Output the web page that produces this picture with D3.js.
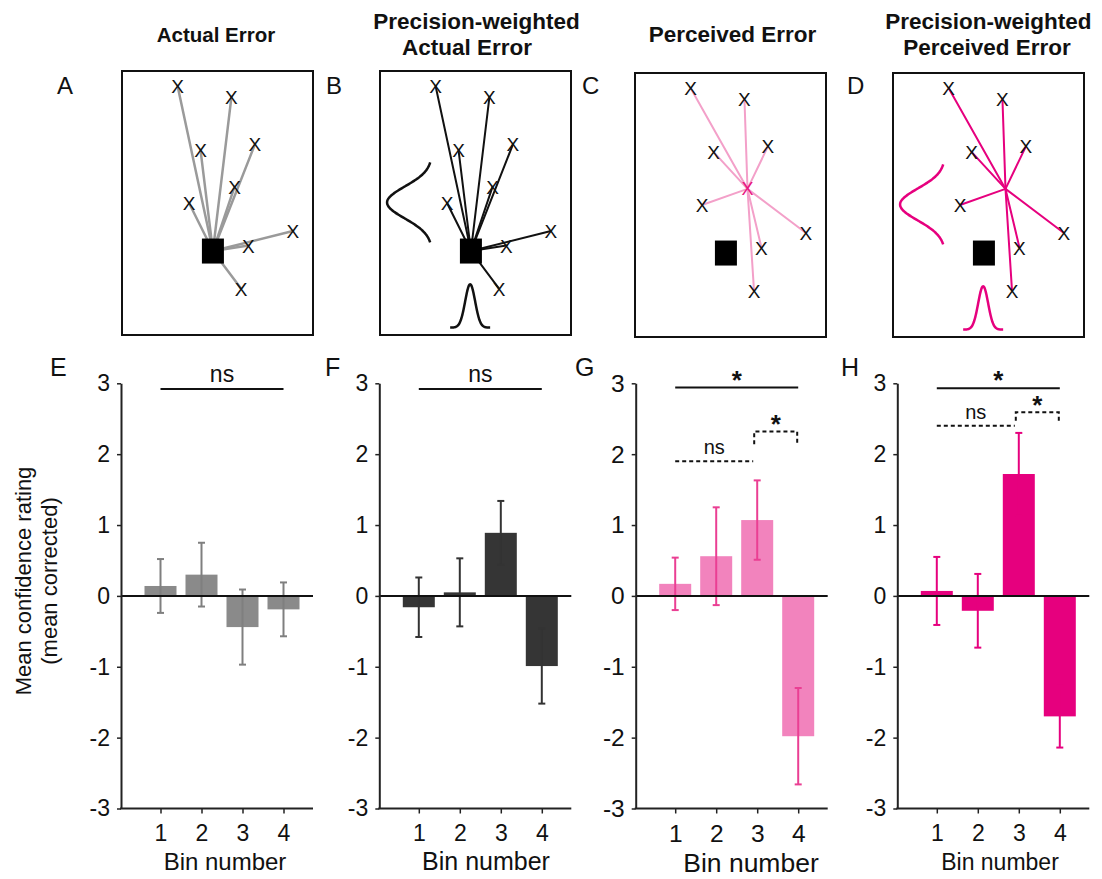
<!DOCTYPE html>
<html>
<head>
<meta charset="utf-8">
<script src="https://cdn.jsdelivr.net/npm/d3@7"></script>
<style>
  body { margin: 0; background: #fff; }
  svg { display: block; }
  text { font-family: "Liberation Sans", Arial, Helvetica, sans-serif; fill: #111; }
</style>
</head>
<body>
<svg id="fig" width="1102" height="879"></svg>
<script>
// ---------- bar chart data (mean confidence rating, mean corrected) ----------
const bins = [1, 2, 3, 4];
const yTicks = [-3, -2, -1, 0, 1, 2, 3];

const actualMean        = [0.14, 0.30, -0.44, -0.19];
const actualErr         = [0.38, 0.45, 0.53, 0.38];
const pwActualMean      = [-0.16, 0.05, 0.89, -0.99];
const pwActualErr       = [0.42, 0.48, 0.45, 0.53];
const perceivedMean     = [0.17, 0.56, 1.07, -1.98];
const perceivedErr      = [0.37, 0.69, 0.56, 0.68];
const pwPerceivedMean   = [0.07, -0.21, 1.72, -1.70];
const pwPerceivedErr    = [0.48, 0.52, 0.58, 0.44];

// significance annotations: bins compared, height in rating units, label
const sigE = [{ a: 1, b: 4, level: 2.92, label: "ns", kind: "solid" }];
const sigF = [{ a: 1, b: 4, level: 2.92, label: "ns", kind: "solid" }];
const sigG = [
  { a: 1, b: 4, level: 2.94, label: "*", kind: "solid" },
  { a: 1, b: 3, level: 1.90, label: "ns", kind: "dashed" },
  { a: 3, b: 4, level: 2.32, drop: 0.18, label: "*", kind: "bracket" }
];
const sigH = [
  { a: 1, b: 4, level: 2.93, label: "*", kind: "solid" },
  { a: 1, b: 3, level: 2.40, label: "ns", kind: "dashed" },
  { a: 3, b: 4, level: 2.59, drop: 0.12, label: "*", kind: "bracket" }
];

// ---------- schematic data (arena coordinates, percent of width / height) ----------
const estimateX = [29.1, 57.3, 41.1, 69.6, 58.9, 35.1, 89.5, 66.2, 62.3];
const estimateY = [ 5.7,  9.8, 29.9, 27.8, 43.9, 50.0, 60.6, 66.1, 82.4];
const perceivedIdx = 4;          // estimate that marks the perceived target
const targetPos = [47.6, 68.2];  // true target (black square)

const svg = d3.select("#fig");
const FONT = '"Liberation Sans", Arial, Helvetica, sans-serif';

// ---------- top row: schematics ----------
const boxW = 191, boxH = 264;
const topPanels = [
  { letter: "A", lx: 57,  left: 122, top: 71, mode: "actual",    line: "#9a9a9a", lw: 2.5, bells: false,
    title: [{ t: "Actual Error", x: 216, y: 41.7, size: 20.5 }] },
  { letter: "B", lx: 326, left: 380, top: 71, mode: "actual",    line: "#111",    lw: 2,   bells: true, bellColor: "#111",
    title: [{ t: "Precision-weighted", x: 476.5, y: 29, size: 22.5 }, { t: "Actual Error", x: 467, y: 55, size: 22.5 }] },
  { letter: "C", lx: 582, left: 635, top: 73, mode: "perceived", line: "#f3a0c9", lw: 2,   bells: false, hubMark: "#e8157f",
    title: [{ t: "Perceived Error", x: 732.5, y: 41.7, size: 22.5 }] },
  { letter: "D", lx: 847, left: 893, top: 73, mode: "perceived", line: "#e6007e", lw: 2,   bells: true, bellColor: "#e6007e",
    title: [{ t: "Precision-weighted", x: 988.3, y: 29, size: 22.5 }, { t: "Perceived Error", x: 987, y: 55, size: 22.5 }] }
];

// normal-curve outline used to sketch each spatial precision
const bell = t => Math.exp(-t * t / 2);

topPanels.forEach(p => {
  const g = svg.append("g");
  const sx = d3.scaleLinear().domain([0, 100]).range([p.left, p.left + boxW]);
  const sy = d3.scaleLinear().domain([0, 100]).range([p.top, p.top + boxH]);

  p.title.forEach(tl => {
    g.append("text").attr("x", tl.x).attr("y", tl.y).attr("text-anchor", "middle")
      .style("font-size", tl.size + "px").style("font-weight", "bold").text(tl.t);
  });
  g.append("text").attr("x", p.lx).attr("y", 93.5).style("font-size", "24px").text(p.letter);

  g.append("rect").attr("x", p.left).attr("y", p.top).attr("width", boxW).attr("height", boxH)
    .attr("fill", "none").attr("stroke", "#111").attr("stroke-width", 2);

  const pts = estimateX.map((x, i) => ({ x: estimateX[i], y: estimateY[i], i }));
  const origin = p.mode === "actual"
    ? { x: targetPos[0], y: targetPos[1] }
    : { x: estimateX[perceivedIdx], y: estimateY[perceivedIdx] };
  const ends = p.mode === "actual" ? pts : pts.filter(d => d.i !== perceivedIdx);

  g.selectAll("line.err").data(ends).join("line")
    .attr("x1", sx(origin.x)).attr("y1", sy(origin.y))
    .attr("x2", d => sx(d.x)).attr("y2", d => sy(d.y))
    .attr("stroke", p.line).attr("stroke-width", p.lw).attr("stroke-linecap", "round");

  // true target
  g.append("rect").attr("x", sx(targetPos[0]) - 11).attr("y", sy(targetPos[1]) - 12.5)
    .attr("width", 22).attr("height", 25).attr("fill", "#000");

  // estimates
  g.selectAll("text.est").data(ends).join("text")
    .attr("x", d => sx(d.x)).attr("y", d => sy(d.y) + 7)
    .attr("text-anchor", "middle").style("font-size", "19px").text("X");
  if (p.hubMark) {
    g.append("text").attr("x", sx(origin.x)).attr("y", sy(origin.y) + 6.5)
      .attr("text-anchor", "middle").style("font-size", "18px").style("fill", p.hubMark).text("X");
  }

  if (p.bells) {
    const ts = d3.range(-2.5, 2.5001, 0.05);
    // wide vertical spread on the left
    const base1 = sx(27.3), amp1 = sx(27.3) - sx(3.7), cy1 = sy(49.8), sig1 = 16;
    g.append("path").attr("fill", "none").attr("stroke", p.bellColor).attr("stroke-width", 2.5)
      .attr("d", d3.line().curve(d3.curveBasis)(ts.map(t => [base1 - amp1 * bell(t), cy1 + t * sig1])));
    // narrow horizontal spread at the bottom
    const ts2 = d3.range(-4, 4.0001, 0.05);
    const base2 = sy(97.2), amp2 = sy(97.2) - sy(80.8), cx2 = sx(47.2), sig2 = 5;
    g.append("path").attr("fill", "none").attr("stroke", p.bellColor).attr("stroke-width", 2.5)
      .attr("d", d3.line().curve(d3.curveBasis)(ts2.map(t => [cx2 + t * sig2, base2 - amp2 * bell(t)])));
  }
});

// ---------- bottom row: bar charts ----------
const yTop = 383.3, yBot = 808.5;
const y = d3.scaleLinear().domain([-3, 3]).range([yBot, yTop]);
const barW = 32;

const bottomPanels = [
  { letter: "E", lx: 50,  x0: 121,   mean: actualMean,      err: actualErr,      fill: "#8a8a8a", errColor: "#7f7f7f", sig: sigE,
    tickSize: 23, binSize: 24, binX: 225, binY: 870 },
  { letter: "F", lx: 325, x0: 379.3, mean: pwActualMean,    err: pwActualErr,    fill: "#353535", errColor: "#333333", sig: sigF,
    tickSize: 23, binSize: 25, binX: 486, binY: 870 },
  { letter: "G", lx: 575, x0: 635.7, mean: perceivedMean,   err: perceivedErr,   fill: "#f283bd", errColor: "#ea3f93", sig: sigG,
    tickSize: 24.5, binSize: 26.5, binX: 751, binY: 872 },
  { letter: "H", lx: 841, x0: 897.3, mean: pwPerceivedMean, err: pwPerceivedErr, fill: "#e6007e", errColor: "#e6007e", sig: sigH,
    tickSize: 23, binSize: 23, binX: 1000, binY: 870 }
];

bottomPanels.forEach(p => {
  const g = svg.append("g");
  const x = d3.scalePoint().domain(bins).range([p.x0 + 39.5, p.x0 + 162.5]);
  const xEnd = p.x0 + 192;

  g.append("text").attr("x", p.lx).attr("y", 376).style("font-size", "25px").text(p.letter);

  // bars
  const rows = bins.map((b, i) => ({ b, v: p.mean[i], e: p.err[i] }));
  g.selectAll("rect.bar").data(rows).join("rect")
    .attr("x", d => x(d.b) - barW / 2).attr("width", barW)
    .attr("y", d => Math.min(y(d.v), y(0))).attr("height", d => Math.abs(y(d.v) - y(0)))
    .attr("fill", p.fill);

  // error bars (SEM)
  const eg = g.selectAll("g.eb").data(rows).join("g").attr("stroke", p.errColor).attr("stroke-width", 2);
  eg.append("line").attr("x1", d => x(d.b)).attr("x2", d => x(d.b))
    .attr("y1", d => y(d.v - d.e)).attr("y2", d => y(d.v + d.e));
  eg.append("line").attr("x1", d => x(d.b) - 3.5).attr("x2", d => x(d.b) + 3.5)
    .attr("y1", d => y(d.v + d.e)).attr("y2", d => y(d.v + d.e));
  eg.append("line").attr("x1", d => x(d.b) - 3.5).attr("x2", d => x(d.b) + 3.5)
    .attr("y1", d => y(d.v - d.e)).attr("y2", d => y(d.v - d.e));

  // zero line
  g.append("line").attr("x1", p.x0).attr("x2", xEnd).attr("y1", y(0)).attr("y2", y(0))
    .attr("stroke", "#111").attr("stroke-width", 2);

  // y axis
  const ya = g.append("g").attr("transform", `translate(${p.x0},0)`)
    .call(d3.axisLeft(y).tickValues(yTicks).tickSize(4).tickSizeOuter(0).tickPadding(7).tickFormat(d => String(d)));
  ya.select(".domain").attr("stroke", "#222").attr("stroke-width", 2);
  ya.selectAll(".tick line").attr("stroke", "#222").attr("stroke-width", 1.5);
  ya.selectAll(".tick text").style("font-size", p.tickSize + "px").style("font-family", FONT).attr("fill", "#111");

  // x axis
  g.append("line").attr("x1", p.x0 - 1).attr("x2", xEnd).attr("y1", yBot).attr("y2", yBot)
    .attr("stroke", "#222").attr("stroke-width", 2);
  const xa = g.append("g").attr("transform", `translate(0,${yBot})`)
    .call(d3.axisBottom(x).tickSize(5).tickSizeOuter(0).tickPadding(11));
  xa.select(".domain").remove();
  xa.selectAll(".tick line").attr("stroke", "#222").attr("stroke-width", 1.5);
  xa.selectAll(".tick text").style("font-size", p.tickSize + "px").style("font-family", FONT).attr("fill", "#111");

  g.append("text").attr("x", p.binX).attr("y", p.binY).attr("text-anchor", "middle")
    .style("font-size", p.binSize + "px").text("Bin number");

  // significance markers
  p.sig.forEach(s => {
    const ly = y(s.level);
    if (s.kind === "solid") {
      g.append("line").attr("x1", x(s.a)).attr("x2", x(s.b)).attr("y1", ly).attr("y2", ly)
        .attr("stroke", "#111").attr("stroke-width", 2);
    } else if (s.kind === "dashed") {
      g.append("line").attr("x1", x(s.a)).attr("x2", x(s.b) - 4).attr("y1", ly).attr("y2", ly)
        .attr("stroke", "#111").attr("stroke-width", 2).attr("stroke-dasharray", "4,3");
    } else {
      const x1 = x(s.a) - 3, x2 = x(s.b) - 1, yd = y(s.level - s.drop);
      g.append("path").attr("d", `M${x1},${yd}V${ly}H${x2}V${yd}`).attr("fill", "none")
        .attr("stroke", "#111").attr("stroke-width", 2).attr("stroke-dasharray", "4,3");
    }
    const cx = s.kind === "bracket" ? (x(s.a) - 3 + x(s.b) - 1) / 2
             : s.kind === "dashed" ? (x(s.a) + x(s.b) - 4) / 2 : (x(s.a) + x(s.b)) / 2;
    if (s.label === "*") {
      g.append("text").attr("x", cx).attr("y", ly + (s.kind === "bracket" ? 2 : 1))
        .attr("text-anchor", "middle").style("font-size", "26px").style("font-weight", "bold").text("*");
    } else {
      g.append("text").attr("x", cx).attr("y", ly - 7).attr("text-anchor", "middle")
        .style("font-size", s.kind === "solid" ? "23px" : "20px").text(s.label);
    }
  });
});

// shared y-axis title
const yt = svg.append("g").attr("transform", "translate(0,581)");
yt.append("text").attr("transform", "translate(31,0) rotate(-90)").attr("text-anchor", "middle")
  .style("font-size", "22px").text("Mean confidence rating");
yt.append("text").attr("transform", "translate(57,0) rotate(-90)").attr("text-anchor", "middle")
  .style("font-size", "22px").text("(mean corrected)");
</script>
</body>
</html>
